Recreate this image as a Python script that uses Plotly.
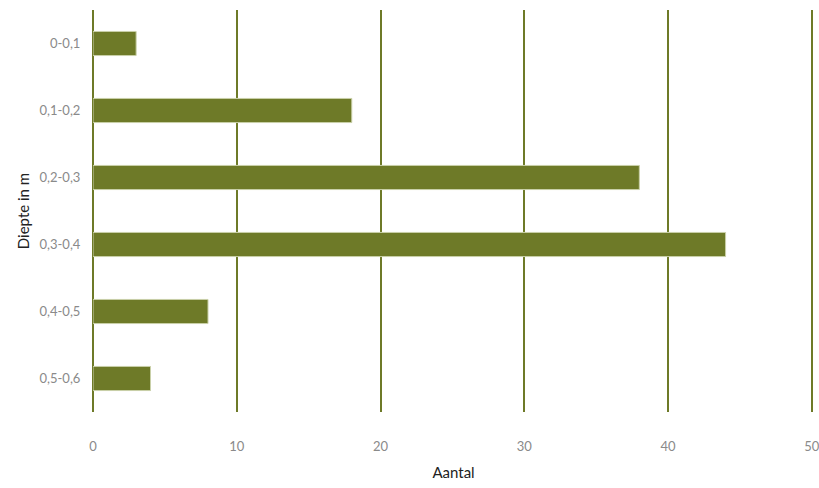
import plotly.graph_objects as go

categories = ["0-0,1", "0,1-0,2", "0,2-0,3", "0,3-0,4", "0,4-0,5", "0,5-0,6"]
values = [3, 18, 38, 44, 8, 4]
x_ticks = [0, 10, 20, 30, 40, 50]

olive = "#6e7a28"

fig = go.Figure(go.Bar(
    x=values, y=categories, orientation="h",
    marker=dict(color=olive, line=dict(color="#c9d0a8", width=1)),
    width=0.36,
))

fig.update_layout(
    width=819, height=488,
    margin=dict(l=93, r=5, t=10, b=76, autoexpand=False),
    plot_bgcolor="white", paper_bgcolor="white",
    font=dict(family="Lato", size=13, color="#888888"),
    showlegend=False,
    bargap=0.64,
)
fig.update_xaxes(
    range=[0, 50.15], tickvals=x_ticks, ticktext=[str(v) for v in x_ticks],
    showgrid=True, gridcolor=olive, gridwidth=2,
    zeroline=True, zerolinecolor=olive, zerolinewidth=2,
    ticks="outside", ticklen=22, tickcolor="rgba(0,0,0,0)",
    tickfont=dict(size=13, color="#8a8a8a"),
    ticklabeloverflow="allow",
    title=dict(text="Aantal", font=dict(size=15, color="#222222"), standoff=14),
    showline=False, fixedrange=True, automargin=False,
)
fig.update_yaxes(
    categoryorder="array", categoryarray=categories, autorange="reversed",
    showgrid=False, zeroline=False, showline=False,
    ticks="outside", ticklen=9, tickcolor="rgba(0,0,0,0)",
    tickfont=dict(size=13, color="#8a8a8a"),
    title=dict(text="Diepte in m", font=dict(size=15, color="#222222"), standoff=6),
    automargin=False,
)

fig.write_html("out.html", config={"displayModeBar": False},
               post_script="document.body.style.margin='0';")
